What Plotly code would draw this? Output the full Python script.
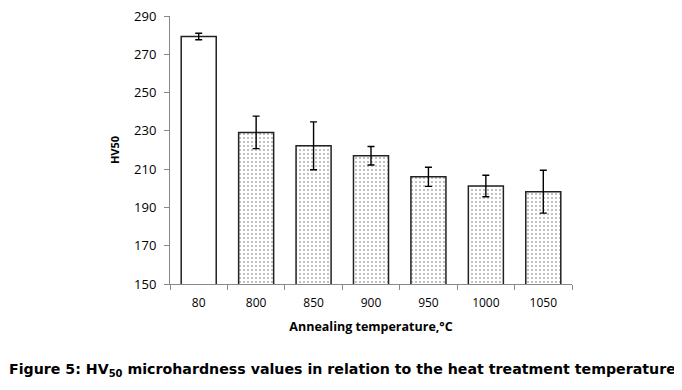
import plotly.graph_objects as go

categories = ["80", "800", "850", "900", "950", "1000", "1050"]
hv50 = [279.3, 229.2, 222.2, 217.0, 206.0, 201.2, 198.2]
hv50_err = [1.7, 8.5, 12.5, 4.8, 5.0, 5.6, 11.2]
patterns = ["", ".", ".", ".", ".", ".", "."]
y_ticks = [150, 170, 190, 210, 230, 250, 270, 290]

# page body has an 8px margin; compensate so plot area sits at x 170-572, y 16-284
OFF = 8
PLOT_L, PLOT_R = 170, 572

fig = go.Figure()
fig.add_trace(go.Bar(
    x=categories, y=hv50,
    marker=dict(color="white", line=dict(color="#222222", width=1.5),
                pattern=dict(shape=patterns, fgcolor="#666666", bgcolor="white",
                             size=4, solidity=0.22, fillmode="overlay")),
    error_y=dict(type="data", array=hv50_err, visible=True, color="black",
                 thickness=1.4, width=3.5),
    width=0.61,
))

fig.update_layout(
    width=682, height=390,
    margin=dict(l=PLOT_L - OFF, r=682 - PLOT_R + OFF, t=16 - OFF, b=106 + OFF, autoexpand=False),
    plot_bgcolor="white", paper_bgcolor="white",
    showlegend=False,
    font=dict(family="Open Sans", size=12, color="black"),
    xaxis=dict(type="category", showline=True, linecolor="#888888", linewidth=1,
               ticks="outside", tickson="boundaries", ticklen=5, tickcolor="#888888",
               ticklabelstandoff=8,
               tickfont=dict(size=12, family="Open Sans"),
               title=dict(text="<b>Annealing temperature,°C</b>", font=dict(size=12.5, family="Open Sans"), standoff=11)),
    yaxis=dict(range=[150, 290], tickvals=y_ticks, showline=True, linecolor="#888888", linewidth=1,
               ticks="outside", ticklen=5, tickcolor="#888888", showgrid=False, zeroline=False,
               ticklabelstandoff=5, ticklabeloverflow="allow",
               tickfont=dict(size=13, family="Open Sans"),
               title=dict(text="<b>HV50</b>", font=dict(size=11, family="Liberation Sans Narrow, Open Sans"), standoff=12)),
)

fig.add_annotation(
    text="<b>Figure 5: HV<sub>50</sub> microhardness values in relation to the heat treatment temperature</b>",
    xref="paper", yref="paper", x=(342 - PLOT_L) / (PLOT_R - PLOT_L), y=0, yshift=-86,
    xanchor="center", yanchor="middle",
    showarrow=False, font=dict(family="DejaVu Sans", size=14.2, color="black"),
)

fig.write_html("out.html")
